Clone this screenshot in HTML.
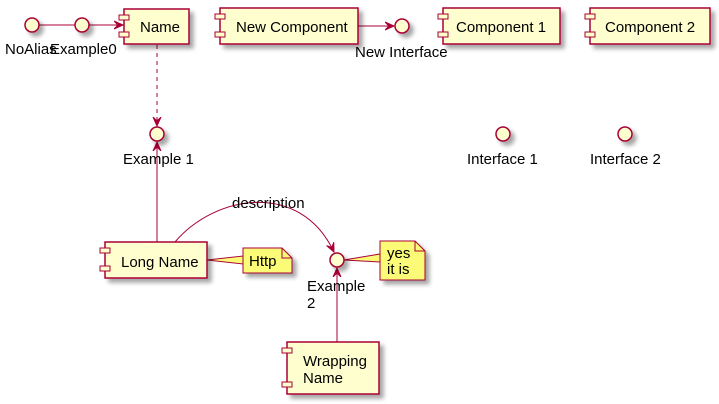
<!DOCTYPE html>
<html><head><meta charset="utf-8"><style>body{margin:0;background:#fff}svg{display:block}text{font-family:"Liberation Sans","DejaVu Sans",sans-serif;font-size:15px;fill:#000}</style></head><body>
<svg width="719" height="404" viewBox="0 0 719 404" xmlns="http://www.w3.org/2000/svg">
<defs>
<filter id="s" x="-20%" y="-20%" width="150%" height="150%"><feGaussianBlur in="SourceAlpha" stdDeviation="2"/><feOffset dx="4" dy="4"/><feComponentTransfer><feFuncA type="linear" slope="0.35"/></feComponentTransfer><feMerge><feMergeNode/><feMergeNode in="SourceGraphic"/></feMerge></filter>
<marker id="a" viewBox="0 0 10 10" refX="9" refY="5" markerWidth="10" markerHeight="10" orient="auto"><path d="M0,1 L9,5 L0,9 L4,5 Z" fill="#A80036" stroke="#A80036"/></marker>
</defs>
<g stroke="#A80036" stroke-width="1" fill="none">
<line x1="39" y1="25" x2="75" y2="25"/>
<line x1="89" y1="25" x2="123" y2="25" marker-end="url(#a)"/>
<line x1="358" y1="26" x2="394" y2="26" marker-end="url(#a)"/>
<line x1="157" y1="45" x2="157" y2="126" stroke-dasharray="4,4" marker-end="url(#a)"/>
<line x1="157" y1="242" x2="157" y2="142" marker-end="url(#a)"/>
<line x1="337" y1="342" x2="337" y2="268" marker-end="url(#a)"/>
<path d="M175,242 C215,195 300,180 334,252" marker-end="url(#a)"/>
</g>
<path d="M207,260 L243,256 L243,264 Z" fill="#FBFB77" stroke="#A80036" stroke-width="1"/>
<path d="M344,260 L380,254 L380,262 Z" fill="#FBFB77" stroke="#A80036" stroke-width="1"/>
<g fill="#FEFECE" stroke="#A80036" stroke-width="1.5" filter="url(#s)">
<circle cx="32" cy="25" r="7"/><circle cx="82" cy="25" r="7"/>
<circle cx="402" cy="26" r="7"/><circle cx="157" cy="134" r="7"/>
<circle cx="503" cy="134" r="7"/><circle cx="625" cy="134" r="7"/>
<circle cx="337" cy="260" r="7"/>
<rect x="124" y="9" width="65" height="35"/>
<rect x="220" y="8" width="138" height="36"/>
<rect x="443" y="8" width="117" height="36"/>
<rect x="590" y="8" width="120" height="36"/>
<rect x="105" y="242" width="102" height="36"/>
<rect x="287" y="342" width="92" height="52"/>
</g>
<g fill="#FEFECE" stroke="#A80036" stroke-width="1">
<rect x="119" y="15" width="10" height="5"/><rect x="119" y="32" width="10" height="5"/>
<rect x="215" y="14" width="10" height="5"/><rect x="215" y="32" width="10" height="5"/>
<rect x="438" y="14" width="10" height="5"/><rect x="438" y="32" width="10" height="5"/>
<rect x="585" y="14" width="10" height="5"/><rect x="585" y="32" width="10" height="5"/>
<rect x="100" y="248" width="10" height="5"/><rect x="100" y="266" width="10" height="5"/>
<rect x="282" y="348" width="10" height="5"/><rect x="282" y="382" width="10" height="5"/>
</g>
<g fill="#FBFB77" stroke="#A80036" stroke-width="1" filter="url(#s)">
<path d="M243,248 H282 L292,258 V273 H243 Z"/>
<path d="M380,241 H415 L425,251 V280 H380 Z"/>
</g>
<g fill="none" stroke="#A80036" stroke-width="1"><path d="M282,248 V258 H292"/><path d="M415,241 V251 H425"/></g>
<text x="5" y="54">NoAlias</text><text x="50" y="54">Example0</text>
<text x="140" y="32">Name</text>
<text x="236" y="32">New Component</text>
<text x="355" y="57">New Interface</text>
<text x="456" y="32">Component 1</text>
<text x="605" y="32">Component 2</text>
<text x="123" y="164">Example 1</text>
<text x="467" y="164">Interface 1</text>
<text x="590" y="164">Interface 2</text>
<text x="121" y="267">Long Name</text>
<text x="249" y="266" font-size="13">Http</text>
<text x="387" y="258" font-size="13">yes</text><text x="387" y="274" font-size="13">it is</text>
<text x="232" y="208" font-size="13">description</text>
<text x="307" y="291">Example</text><text x="307" y="308">2</text>
<text x="303" y="366">Wrapping</text><text x="303" y="383">Name</text>
</svg>
</body></html>
